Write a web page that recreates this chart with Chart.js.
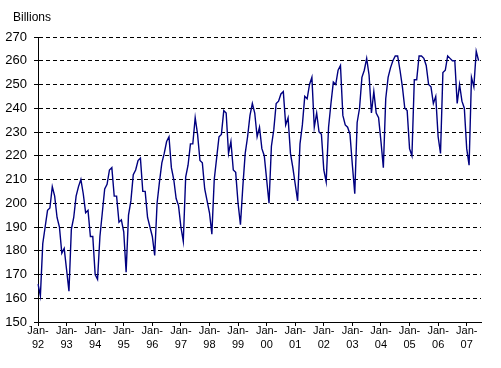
<!DOCTYPE html>
<html>
<head>
<meta charset="utf-8">
<script src="https://cdn.jsdelivr.net/npm/chart.js@4"></script>
<style>
  html, body { margin: 0; padding: 0; background: #fff; }
  #wrap { width: 501px; height: 368px; position: relative; }
</style>
</head>
<body>
<div id="wrap"><canvas id="myChart" width="501" height="368"></canvas></div>
<script>
// monthly values, billions
var y1992 = [166, 161, 183, 190, 197, 198, 207, 203, 194, 190, 179, 181];
var y1993 = [172, 163, 189, 194, 203, 207, 210, 204, 196, 197, 186, 186];
var y1994 = [170, 168, 186, 196, 206, 208, 214, 215, 203, 203, 192, 193];
var y1995 = [188, 171, 195, 201, 212, 214, 218, 219, 205, 205, 194, 190];
var y1996 = [186, 178, 200, 209, 217, 221, 226, 228, 215, 210, 202, 199];
var y1997 = [190, 184, 211, 216, 225, 225, 236, 229, 218, 217, 206, 201];
var y1998 = [196, 187, 210, 219, 228, 229, 239, 238, 221, 226, 214, 213];
var y1999 = [200, 191, 207, 221, 228, 237, 242, 238, 228, 232, 223, 220];
var y2000 = [210, 200, 224, 231, 242, 243, 246, 247, 233, 236, 221, 215];
var y2001 = [208, 201, 225, 233, 245, 244, 250, 253, 232, 238, 230, 229];
var y2002 = [214, 209, 232, 242, 251, 250, 256, 258, 237, 233, 232, 229];
var y2003 = [216, 204, 234, 240, 253, 256, 261, 254, 238, 247, 238, 236];
var y2004 = [226, 215, 244, 253, 257, 260, 262, 262, 256, 249, 240, 239];
var y2005 = [223, 220, 252, 252, 262, 262, 261, 258, 250, 249, 242, 245];
var y2006 = [228, 221, 255, 256, 262, 261, 260, 260, 242, 250, 243, 240];
var y2007 = [223, 216, 253, 249, 264, 260];

var monthNames = ['Jan', 'Feb', 'Mar', 'Apr', 'May', 'Jun', 'Jul', 'Aug', 'Sep', 'Oct', 'Nov', 'Dec'];
var years = ['92', '93', '94', '95', '96', '97', '98', '99', '00', '01', '02', '03', '04', '05', '06', '07'];
var lastMonth = 'Jul-07'; // axis runs one month past the data

var yTicks = { min: 150, max: 270, step: 10 };

var values = [].concat(y1992, y1993, y1994, y1995, y1996, y1997, y1998, y1999,
                       y2000, y2001, y2002, y2003, y2004, y2005, y2006, y2007);

var labels = [];
years.forEach(function (yy) {
    monthNames.forEach(function (m) {
        if (labels.length && labels[labels.length - 1] === lastMonth) return;
        labels.push(m + '-' + yy);
    });
});

var unitLabel = {
    id: 'unitLabel',
    afterDraw: function (chart) {
        var ctx = chart.ctx;
        ctx.save();
        ctx.font = '12px "Liberation Sans", Arial, sans-serif';
        ctx.fillStyle = '#000';
        ctx.textBaseline = 'alphabetic';
        ctx.fillText('Billions', 13, 21);
        ctx.restore();
    }
};

var ctx = document.getElementById('myChart').getContext('2d');
var chart = new Chart(ctx, {
    type: 'line',
    data: {
        labels: labels,
        datasets: [{
            label: 'Billions',
            data: values,
            borderColor: '#000080',
            backgroundColor: '#000080',
            borderWidth: 1.4,
            pointRadius: 0,
            tension: 0,
            fill: false
        }]
    },
    options: {
        responsive: false,
        animation: false,
        layout: { padding: { top: 37, right: 20, left: 0, bottom: 0 } },
        plugins: {
            legend: { display: false },
            tooltip: { enabled: false }
        },
        scales: {
            x: {
                type: 'category',
                offset: false,
                afterFit: function (scale) { scale.height = 46; },
                grid: {
                    drawOnChartArea: false,
                    drawTicks: true,
                    tickLength: 4,
                    color: '#000',
                    tickColor: '#000'
                },
                border: { display: true, color: '#000', width: 1 },
                ticks: {
                    autoSkip: false,
                    maxRotation: 0,
                    minRotation: 0,
                    padding: -3,
                    color: '#000',
                    font: { family: '"Liberation Sans", Arial, sans-serif', size: 11, lineHeight: 1.36 },
                    callback: function (val, i) {
                        var l = this.getLabelForValue(val);
                        if (l.indexOf('Jan-') !== 0) return null;
                        return ['Jan-', l.slice(4)];
                    }
                }
            },
            y: {
                min: yTicks.min,
                max: yTicks.max,
                afterFit: function (scale) { scale.width = 38; },
                grid: {
                    drawOnChartArea: true,
                    drawTicks: true,
                    tickLength: 4,
                    color: '#000',
                    tickColor: '#000',
                    tickBorderDash: []
                },
                border: { display: true, color: '#000', width: 1, dash: [4, 3] },
                ticks: {
                    stepSize: yTicks.step,
                    padding: 7,
                    color: '#000',
                    font: { family: '"Liberation Sans", Arial, sans-serif', size: 13 }
                }
            }
        }
    },
    plugins: [unitLabel]
});
</script>
</body>
</html>
